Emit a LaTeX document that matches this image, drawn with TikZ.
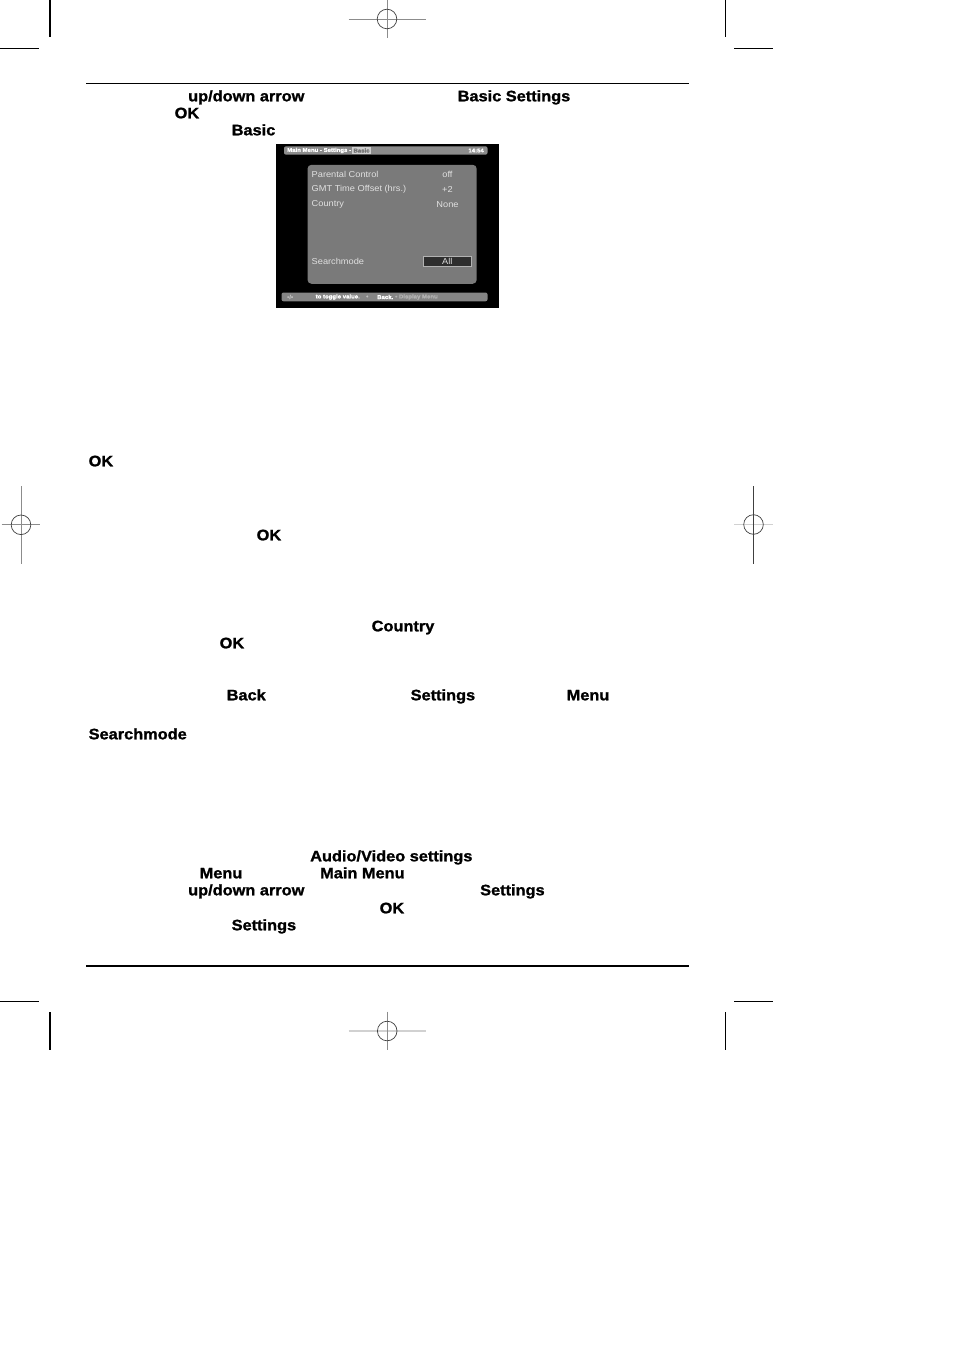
\documentclass[tikz,border=0pt]{standalone}
\usepackage{fontspec}
\setmainfont{Liberation Sans}[FakeStretch=1.075, BoldFeatures={FakeBold=1.3}]
\begin{document}
\begin{tikzpicture}[x=1pt,y=-1pt,
  lbl/.style={anchor=base west, inner sep=0pt, font=\fontsize{15.2}{18}\selectfont\bfseries},
  crop/.style={line width=1.1pt, black},
  rule/.style={line width=1.3pt, black},
  reggray/.style={line width=0.8pt, black!45},
  reglight/.style={line width=1.6pt, black!18},
  regdark/.style={line width=0.7pt, black!75},
  menutxt/.style={inner sep=0pt, text=black!12, font=\fontsize{8.6}{10}\selectfont},
  bartxt/.style={inner sep=0pt, text=white, font=\fontsize{5.6}{6}\selectfont\bfseries}]
\useasboundingbox (0,0) rectangle (954,1351);
\fill[white] (0,0) rectangle (954,1351);

% crop marks
\draw[crop] (50,0) -- (50,37.5);
\draw[crop] (0,48.3) -- (38.5,48.3);
\draw[crop] (725.5,0) -- (725.5,37.5);
\draw[crop] (734,48.3) -- (773,48.3);
\draw[crop] (0,1001.8) -- (38.5,1001.8);
\draw[crop] (50,1012) -- (50,1050);
\draw[crop] (734,1001.8) -- (773,1001.8);
\draw[crop] (725.5,1012) -- (725.5,1050);

% registration marks
\draw[reggray] (348.5,19) -- (426,19);
\draw[reggray] (387,0) -- (387,37.7);
\draw[regdark] (387,19) circle (9.8);

\draw[reggray] (1.5,524.8) -- (40,524.8);
\draw[reggray] (21,486) -- (21,563.5);
\draw[regdark] (21,524.8) circle (9.8);

\draw[reglight] (734,524.5) -- (772.5,524.5);
\draw[regdark] (753.5,486) -- (753.5,563.5);
\draw[regdark] (753.5,524.5) circle (9.8);

\draw[reglight] (348.5,1031) -- (426,1031);
\draw[reggray] (387.2,1011.7) -- (387.2,1050);
\draw[regdark] (387.2,1031) circle (9.8);

% rules
\draw[rule] (86,83.3) -- (689,83.3);
\draw[rule] (86,966) -- (689,966);

% texts
\node[lbl] (t1) at (188,101.3) {up/down arrow};
\node[lbl] (t2) at (457.5,101.3) {Basic Settings};
\node[lbl] (t3) at (174.5,118.3) {OK};
\node[lbl] (t4) at (231.5,135.3) {Basic};
\node[lbl] (t5) at (88.5,466.3) {OK};
\node[lbl] (t6) at (256.5,540.3) {OK};
\node[lbl] (t7) at (371.5,631.3) {Country};
\node[lbl] (t8) at (219.5,648.3) {OK};
\node[lbl] (t9) at (226.5,700.3) {Back};
\node[lbl] (t10) at (410.5,700.3) {Settings};
\node[lbl] (t11) at (566.5,700.3) {Menu};
\node[lbl] (t12) at (88.5,739.3) {Searchmode};
\node[lbl] (t13) at (310,861.3) {Audio/Video settings};
\node[lbl] (t14) at (199.5,878.3) {Menu};
\node[lbl] (t15) at (320,878.3) {Main Menu};
\node[lbl] (t16) at (188,895.3) {up/down arrow};
\node[lbl] (t17) at (480,895.3) {Settings};
\node[lbl] (t18) at (379.5,913.3) {OK};
\node[lbl] (t19) at (231.5,930.3) {Settings};

% screenshot
\fill[black] (276,144) rectangle (499,307.5);
\fill[black!45, rounded corners=2pt] (284,146.3) rectangle (487.5,154.7);
\node[bartxt, anchor=west] (hb) at (287,150.5) {Main Menu - Settings -};
\node[bartxt, anchor=west, fill=black!18, text=black!55, inner xsep=1pt, inner ysep=1.2pt, xshift=1pt] (hc) at (hb.east) {Basic};
\node[bartxt, anchor=east] (ht) at (484,150.5) {14:54};

\fill[black!52, rounded corners=4pt] (307.5,164.8) rectangle (476.7,283.8);
\node[menutxt, anchor=west] (m1) at (311.5,174.4) {Parental Control};
\node[menutxt, anchor=west] (m2) at (311.5,189.4) {GMT Time Offset (hrs.)};
\node[menutxt, anchor=west] (m3) at (311.5,204.1) {Country};
\node[menutxt, anchor=west] (m4) at (311.5,261.2) {Searchmode};
\node[menutxt] (v1) at (447.5,174.4) {off};
\node[menutxt] (v2) at (447.5,189.4) {+2};
\node[menutxt] (v3) at (447.5,204.1) {None};
\draw[black!30, fill=black!82, line width=0.6pt] (423,256) rectangle (471.7,266.2);
\node[menutxt] (v4) at (447.3,261.2) {All};

\fill[black!48, rounded corners=2pt] (281.5,292.5) rectangle (487.5,301.3);
\node[bartxt, anchor=west, text=black!25] (b0) at (287,297) {\textbullet/\textbullet};
\node[bartxt, anchor=west] (b1) at (315.5,297) {to toggle value.};
\node[bartxt, anchor=west, text=black!25] (b2) at (366,297) {\textbullet};
\node[bartxt, anchor=west] (b3) at (377,297) {Back.};
\node[bartxt, anchor=west, text=black!30] (b4) at (395,297) {\textbullet\ Display Menu};
\end{tikzpicture}
\end{document}
